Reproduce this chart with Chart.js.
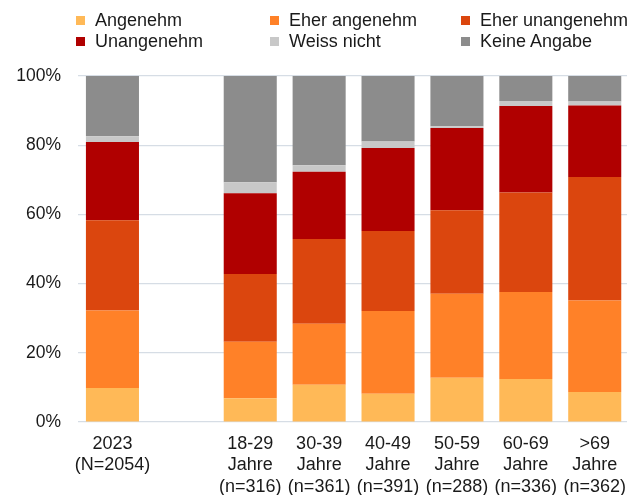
<!DOCTYPE html>
<html lang="de">
<head>
<meta charset="utf-8">
<script src="https://cdn.jsdelivr.net/npm/chart.js@4/dist/chart.umd.min.js"></script>
<style>
  html, body { margin: 0; padding: 0; background: #fff; overflow: hidden; }
  #wrap { position: relative; width: 627px; height: 495px; overflow: hidden; }
  #chart { position: absolute; left: 0; top: 0; }
  .legend-item {
    position: absolute; height: 21px; line-height: 21px;
    font-family: "Liberation Sans", Arial, sans-serif; font-size: 18px; color: #1a1a1a;
    white-space: nowrap;
  }
  .legend-item .box { position: absolute; left: 0; top: 6px; width: 9px; height: 9px; }
  .legend-item .txt { position: absolute; left: 19px; top: 0; }
</style>
</head>
<body>
<div id="wrap">
  <canvas id="chart" width="637" height="495"></canvas>
  <div id="legend"></div>
</div>
<script>
// Kategorien (leere Spalte trennt Gesamtwert und Altersgruppen)
const categories = [
  ["2023", "(N=2054)"],
  "",
  ["18-29", "Jahre", "(n=316)"],
  ["30-39", "Jahre", "(n=361)"],
  ["40-49", "Jahre", "(n=391)"],
  ["50-59", "Jahre", "(n=288)"],
  ["60-69", "Jahre", "(n=336)"],
  [">69", "Jahre", "(n=362)"]
];

const seriesNames = ["Angenehm", "Eher angenehm", "Eher unangenehm", "Unangenehm", "Weiss nicht", "Keine Angabe"];

// Anteile in Prozent
const angenehm       = [9.8,  null, 6.9,  10.8, 8.2,  12.8, 12.4, 8.7];
const eherAngenehm   = [22.4, null, 16.3, 17.6, 23.9, 24.3, 25.2, 26.4];
const eherUnangenehm = [26.1, null, 19.6, 24.5, 23.1, 24.1, 28.7, 35.7];
const unangenehm     = [22.6, null, 23.3, 19.4, 24.0, 23.8, 25.0, 20.7];
const weissNicht     = [1.7,  null, 3.2,  1.9,  1.9,  0.5,  1.5,  1.1];
const keineAngabe    = [17.4, null, 30.7, 25.8, 18.9, 14.5, 7.2,  7.4];

const yTicks = [0, 20, 40, 60, 80, 100];

const colors = ["#FFB957", "#FF8128", "#DB460E", "#B00000", "#C8C8C8", "#8C8C8C"];
const seriesData = [angenehm, eherAngenehm, eherUnangenehm, unangenehm, weissNicht, keineAngabe];

const datasets = seriesNames.map((name, i) => ({
  label: name,
  data: seriesData[i],
  backgroundColor: colors[i],
  borderWidth: 0,
  barPercentage: 0.77,
  categoryPercentage: 1.0
}));

// Legende als HTML in drei Spalten
const legendCols = [76, 270, 461];
const legendRows = [10, 31];
const legendEl = document.getElementById("legend");
seriesNames.forEach((name, i) => {
  const item = document.createElement("div");
  item.className = "legend-item";
  item.style.left = legendCols[i % 3] + "px";
  item.style.top = legendRows[Math.floor(i / 3)] + "px";
  const box = document.createElement("span");
  box.className = "box";
  box.style.background = colors[i];
  const txt = document.createElement("span");
  txt.className = "txt";
  txt.textContent = name;
  item.appendChild(box);
  item.appendChild(txt);
  legendEl.appendChild(item);
});

const font = { family: "'Liberation Sans', Arial, sans-serif", size: 18 };

new Chart(document.getElementById("chart"), {
  type: "bar",
  data: { labels: categories, datasets },
  options: {
    responsive: false,
    animation: false,
    layout: { padding: { top: 76, right: 0, bottom: 0, left: 0 } },
    plugins: {
      legend: { display: false },
      tooltip: { enabled: false }
    },
    scales: {
      x: {
        stacked: true,
        offset: true,
        grid: { display: false, drawTicks: false },
        border: { display: false },
        ticks: {
          color: "#1a1a1a",
          font,
          padding: 11,
          maxRotation: 0,
          autoSkip: false
        },
        afterFit(scale) { scale.height = 73; }
      },
      y: {
        stacked: true,
        min: 0,
        max: 100,
        grid: { color: "#D6DDE5", lineWidth: 1.2, drawTicks: false },
        border: { display: false },
        afterBuildTicks(scale) { scale.ticks = yTicks.map(v => ({ value: v })); },
        ticks: {
          color: "#1a1a1a",
          font: { family: font.family, size: 17.5 },
          padding: 17,
          callback: v => v + "%"
        },
        afterFit(scale) { scale.width = 78; }
      }
    }
  }
});
</script>
</body>
</html>
